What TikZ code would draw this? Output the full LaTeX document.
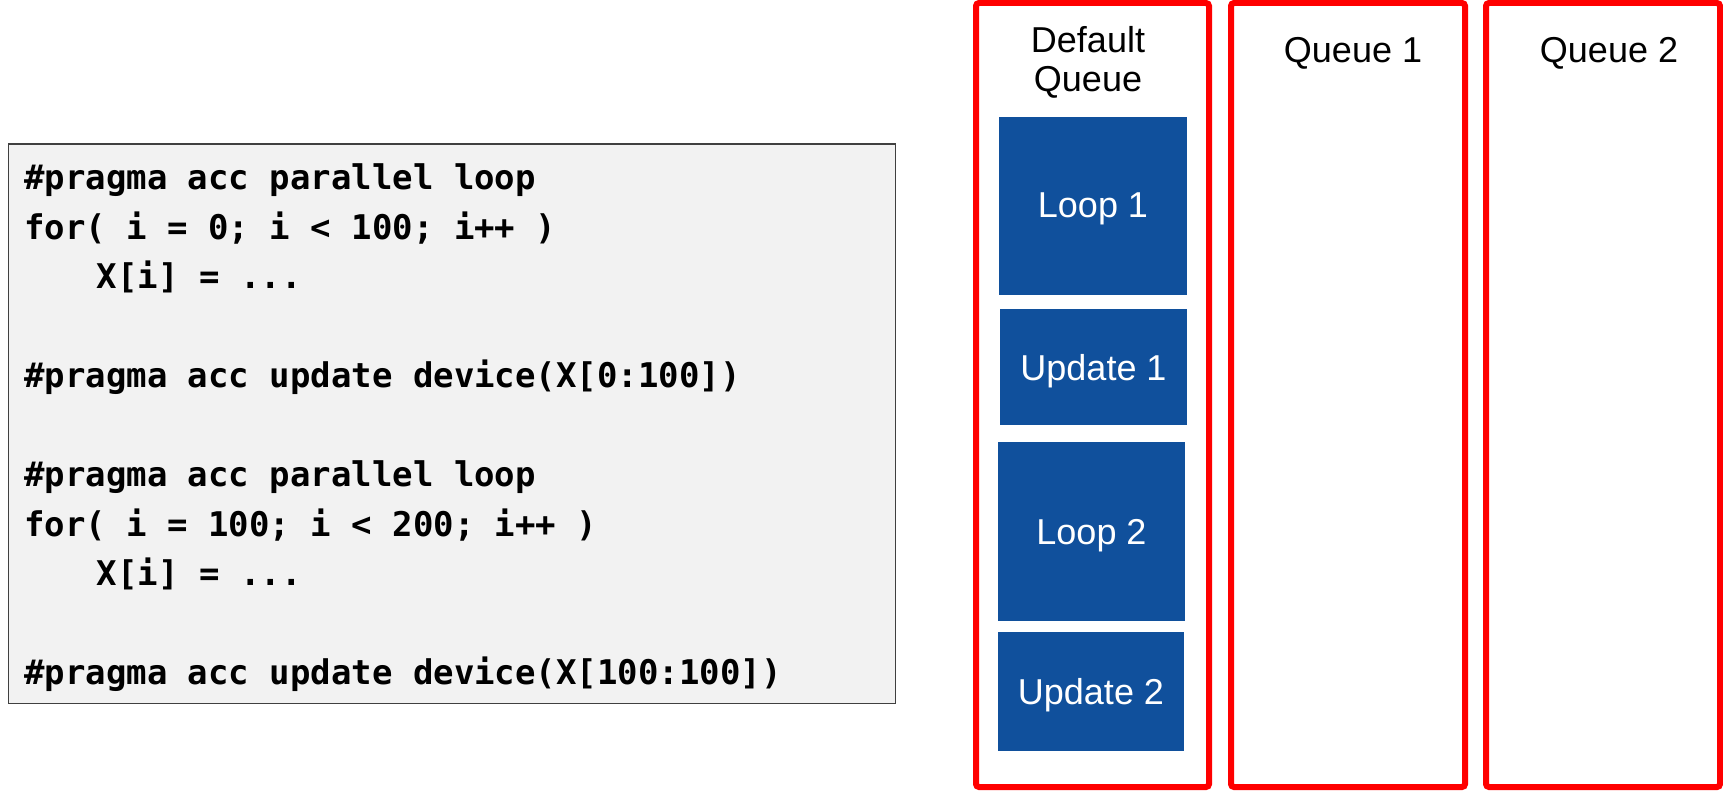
\documentclass[tikz,border=0pt]{standalone}
\usepackage{fontspec}
\setmainfont{Liberation Sans}
\newfontfamily\codefont{DejaVu Sans Mono}
\definecolor{taskblue}{RGB}{16,80,156}
\definecolor{panelgray}{RGB}{242,242,242}
\definecolor{panelline}{RGB}{64,64,64}
\begin{document}
\begin{tikzpicture}[x=1pt,y=-1pt,
  codepanel/.style={draw=panelline, line width=1.2pt, fill=panelgray, inner sep=0pt},
  codeline/.style={anchor=base west, inner sep=0pt, font=\codefont\bfseries\fontsize{34}{40}\selectfont},
  queuebox/.style={draw=red, line width=6pt, rounded corners=3pt, inner sep=0pt},
  queuelabel/.style={inner sep=0pt, align=center, font=\fontsize{36}{38.5}\selectfont},
  task/.style={fill=taskblue, text=white, inner sep=0pt, text depth=0pt, font=\fontsize{36}{40}\selectfont}]
\useasboundingbox (0,0) rectangle (1723,792);

% source code panel
\node[codepanel, minimum width=886.8pt, minimum height=559.3pt] (code) at (452.2,423.7) {};
\node[codeline] (l1) at (24,189.5) {\#pragma acc parallel loop};
\node[codeline] (l2) at (24,239) {for( i = 0; i < 100; i++ )};
\node[codeline] (l3) at (96.7,288.5) {X[i] = ...};
\node[codeline] (l4) at (24,387.5) {\#pragma acc update device(X[0:100])};
\node[codeline] (l5) at (24,486.5) {\#pragma acc parallel loop};
\node[codeline] (l6) at (24,536) {for( i = 100; i < 200; i++ )};
\node[codeline] (l7) at (96.7,585.5) {X[i] = ...};
\node[codeline] (l8) at (24,684.5) {\#pragma acc update device(X[100:100])};

% queue columns
\node[queuebox, minimum width=233pt, minimum height=784pt] (q0) at (1092.5,395) {};
\node[queuebox, minimum width=234pt, minimum height=784pt] (q1) at (1348,395) {};
\node[queuebox, minimum width=234pt, minimum height=784pt] (q2) at (1603,395) {};
\node[queuelabel] (q0t) at (1088,62.3) {Default\\Queue};
\node[queuelabel] (q1t) at (1353,53.8) {Queue 1};
\node[queuelabel] (q2t) at (1609,53.8) {Queue 2};

% operations in the default queue
\node[task, minimum width=188pt, minimum height=178pt] (loop1) at (1093,205.5) {Loop 1};
\node[task, minimum width=187pt, minimum height=116pt] (upd1) at (1093.5,367) {Update 1};
\node[task, minimum width=187pt, minimum height=179pt] (loop2) at (1091.5,531.5) {Loop 2};
\node[task, minimum width=186pt, minimum height=119pt] (upd2) at (1091,691.5) {Update 2};
\end{tikzpicture}
\end{document}
